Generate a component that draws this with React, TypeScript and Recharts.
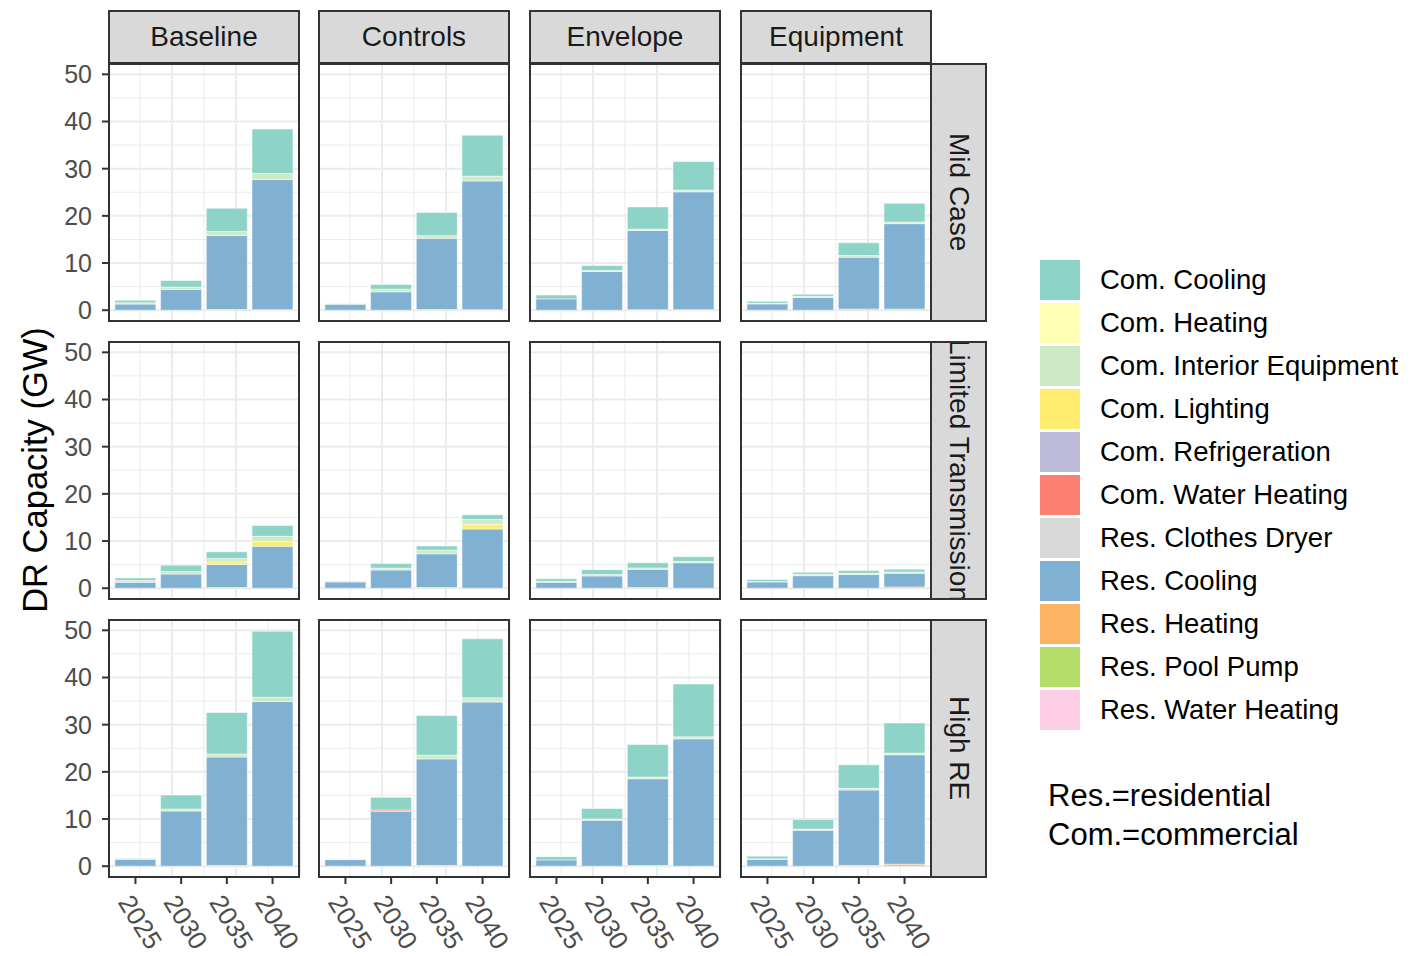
import { BarChart, Bar, XAxis, YAxis, CartesianGrid } from "recharts"

// panel order: Mid Case (Baseline, Controls, Envelope, Equipment),
// Limited Transmission (...), High RE (...); each row = 2025, 2030, 2035, 2040
const years = ["2025", "2030", "2035", "2040"]
const columnLabels = ["Baseline", "Controls", "Envelope", "Equipment"]
const rowLabels = ["Mid Case", "Limited Transmission", "High RE"]
const yTicks = [0, 10, 20, 30, 40, 50]
const yMinor = [5, 15, 25, 35, 45]
// positions on a continuous copy of the discrete x scale (1..4 = categories)
const xMajor = [1, 2, 3, 4]
const xMinor = [0.5, 1.5, 2.5, 3.5, 4.5]

const comCooling = [
  [0.5, 1.4, 4.9, 9.4], [0, 1.0, 4.9, 8.7], [0.8, 1.05, 4.7, 6.05], [0.4, 0.45, 2.7, 3.95],
  [0.56, 1.33, 1.4, 2.3], [0, 1.0, 0.9, 1.0], [0.56, 1.05, 1.1, 1.0], [0.42, 0.42, 0.56, 0.56],
  [0.1, 2.95, 8.8, 14.0], [0.05, 2.7, 8.4, 12.5], [0.7, 2.2, 6.9, 11.2], [0.56, 2.0, 5.0, 6.4],
]
const comHeating = [
  [0, 0, 0, 0], [0, 0, 0, 0], [0, 0, 0, 0], [0, 0, 0, 0],
  [0, 0, 0, 0], [0, 0, 0, 0], [0, 0, 0, 0], [0, 0, 0, 0],
  [0, 0, 0, 0], [0, 0, 0, 0], [0, 0, 0, 0], [0, 0, 0, 0],
]
const comInteriorEquipment = [
  [0.3, 0.5, 0.85, 1.3], [0.14, 0.55, 0.55, 1.0], [0, 0.2, 0.3, 0.35], [0.15, 0.25, 0.35, 0.35],
  [0.35, 0.56, 0.7, 1.1], [0.2, 0.4, 0.77, 1.0], [0.2, 0.28, 0.28, 0.28], [0.1, 0.28, 0.28, 0.28],
  [0.15, 0.42, 0.63, 0.9], [0.1, 0, 0.77, 0.7], [0, 0.28, 0.35, 0.42], [0.1, 0.28, 0.35, 0.35],
]
const comLighting = [
  [0, 0, 0, 0], [0, 0, 0, 0], [0, 0, 0, 0], [0, 0, 0, 0],
  [0, 0, 0.56, 1.0], [0, 0, 0, 1.0], [0, 0, 0, 0], [0, 0, 0, 0],
  [0, 0, 0, 0], [0, 0, 0, 0], [0, 0, 0, 0], [0, 0, 0, 0],
]
const comRefrigeration = [
  [0, 0, 0, 0], [0, 0, 0, 0], [0, 0, 0, 0], [0, 0, 0, 0],
  [0, 0, 0, 0], [0, 0, 0, 0], [0, 0, 0, 0], [0, 0, 0, 0],
  [0, 0, 0, 0], [0, 0, 0, 0.2], [0, 0, 0, 0], [0, 0, 0, 0],
]
const comWaterHeating = [
  [0, 0, 0, 0], [0, 0, 0, 0], [0, 0, 0, 0], [0, 0, 0, 0],
  [0, 0, 0, 0], [0, 0, 0, 0], [0, 0, 0, 0], [0, 0, 0, 0],
  [0, 0, 0, 0], [0, 0.25, 0, 0], [0, 0, 0, 0], [0, 0, 0, 0],
]
const resClothesDryer = [
  [0, 0, 0, 0], [0, 0, 0, 0], [0, 0, 0, 0], [0, 0, 0, 0],
  [0, 0, 0, 0], [0, 0, 0, 0], [0, 0, 0, 0], [0, 0, 0, 0],
  [0, 0, 0, 0], [0, 0, 0, 0], [0, 0, 0, 0], [0, 0, 0, 0],
]
const resCooling = [
  [1.3, 4.4, 15.7, 27.6], [1.27, 3.9, 15.1, 27.3], [2.4, 8.2, 16.8, 25.0], [1.34, 2.7, 11.0, 18.1],
  [1.26, 3.0, 4.9, 8.9], [1.33, 3.86, 7.15, 12.55], [1.26, 2.6, 3.86, 5.4], [1.33, 2.66, 2.9, 2.9],
  [1.47, 11.7, 23.0, 34.9], [1.4, 11.65, 22.6, 34.8], [1.33, 9.75, 18.4, 27.0], [1.47, 7.6, 16.0, 23.2],
]
const resHeating = [
  [0, 0, 0, 0], [0, 0, 0, 0], [0, 0, 0, 0], [0, 0, 0.25, 0],
  [0, 0, 0, 0], [0, 0, 0, 0], [0, 0, 0, 0], [0, 0, 0, 0.28],
  [0, 0, 0.15, 0], [0, 0, 0.15, 0], [0, 0, 0, 0], [0, 0, 0.15, 0.42],
]
const resPoolPump = [
  [0, 0, 0.15, 0], [0, 0, 0.15, 0], [0, 0, 0, 0], [0, 0, 0, 0.25],
  [0, 0, 0.15, 0], [0, 0, 0.15, 0], [0, 0, 0.15, 0], [0, 0, 0, 0],
  [0, 0, 0, 0], [0, 0, 0, 0], [0, 0, 0.15, 0], [0, 0, 0, 0],
]
const resWaterHeating = [
  [0, 0, 0, 0.1], [0, 0, 0, 0.1], [0, 0, 0.1, 0.1], [0, 0, 0, 0],
  [0, 0, 0, 0], [0, 0, 0, 0], [0, 0, 0, 0], [0, 0, 0, 0],
  [0, 0, 0, 0], [0, 0, 0, 0], [0, 0, 0, 0], [0, 0, 0, 0],
]

// legend order (top of stack first)
const series = [
  { key: "comCooling", name: "Com. Cooling", color: "#8DD3C7", values: comCooling },
  { key: "comHeating", name: "Com. Heating", color: "#FFFFB3", values: comHeating },
  { key: "comInteriorEquipment", name: "Com. Interior Equipment", color: "#CCEBC5", values: comInteriorEquipment },
  { key: "comLighting", name: "Com. Lighting", color: "#FFED6F", values: comLighting },
  { key: "comRefrigeration", name: "Com. Refrigeration", color: "#BEBADA", values: comRefrigeration },
  { key: "comWaterHeating", name: "Com. Water Heating", color: "#FB8072", values: comWaterHeating },
  { key: "resClothesDryer", name: "Res. Clothes Dryer", color: "#D9D9D9", values: resClothesDryer },
  { key: "resCooling", name: "Res. Cooling", color: "#80B1D3", values: resCooling },
  { key: "resHeating", name: "Res. Heating", color: "#FDB462", values: resHeating },
  { key: "resPoolPump", name: "Res. Pool Pump", color: "#B3DE69", values: resPoolPump },
  { key: "resWaterHeating", name: "Res. Water Heating", color: "#FCCDE5", values: resWaterHeating },
]

const FONT = "'Liberation Sans', Arial, sans-serif"
const colLeft = [108, 318, 529, 740]
const rowTop = [63, 341, 619]
const PW = 192
const PH = 259
const PAD = 16
const PADR = 20
const YAXIS_W = 70
const XAXIS_H = 78

const YearTick = ({ x, y, payload }: any) => (
  <g transform={`translate(${x - 2},${y})`}>
    <text transform="rotate(58)" textAnchor="start" dominantBaseline="hanging" fill="#4D4D4D" fontSize={26}>
      {payload.value}
    </text>
  </g>
)

function Panel({ row, col }: { row: number; col: number }) {
  const p = row * 4 + col
  const data = years.map((year, i) => {
    const d: Record<string, number | string> = { year }
    series.forEach((s) => {
      d[s.key] = s.values[p][i]
    })
    return d
  })
  const showY = col === 0
  const showX = row === 2
  const left = colLeft[col] - (showY ? YAXIS_W : 0)
  const rightPad = showX ? PADR : 0
  const width = PW + (showY ? YAXIS_W : 0) + rightPad
  const bottomPad = showX ? 0 : PAD
  const height = PAD + PH + (showX ? XAXIS_H : 0) + bottomPad
  const stackOrder = [...series].reverse()
  return (
    <div style={{ position: "absolute", left, top: rowTop[row] - PAD }}>
      <BarChart
        width={width}
        height={height}
        data={data}
        margin={{ top: PAD, right: rightPad, bottom: bottomPad, left: 0 }}
        barCategoryGap="5%"
        barGap={0}
      >
        <CartesianGrid
          xAxisId="grid"
          stroke="#EBEBEB"
          strokeWidth={1}
          horizontalValues={yMinor}
          verticalValues={xMinor}
        />
        <CartesianGrid
          xAxisId="grid"
          stroke="#EBEBEB"
          strokeWidth={2}
          horizontalValues={yTicks}
          verticalValues={xMajor}
        />
        <XAxis xAxisId="grid" type="number" domain={[0.4, 4.6]} allowDataOverflow hide height={0} />
        <XAxis
          dataKey="year"
          type="category"
          padding={{ left: 4.6, right: 4.6 }}
          hide={!showX}
          height={showX ? XAXIS_H : 0}
          axisLine={false}
          tickSize={6}
          tickMargin={8}
          tickLine={{ stroke: "#333333", strokeWidth: 2 }}
          tick={<YearTick />}
          interval={0}
        />
        <YAxis
          type="number"
          domain={[-2.5, 52.4]}
          ticks={yTicks}
          interval={0}
          allowDataOverflow
          hide={!showY}
          width={showY ? YAXIS_W : 0}
          axisLine={false}
          tickSize={6}
          tickMargin={10}
          tickLine={{ stroke: "#333333", strokeWidth: 2 }}
          tick={{ fill: "#4D4D4D", fontSize: 25 }}
        />
        {stackOrder.map((s) => (
          <Bar
            key={s.key}
            dataKey={s.key}
            stackId="a"
            fill={s.color}
            stroke="#FFFFFF"
            strokeWidth={0.5}
            isAnimationActive={false}
          />
        ))}
      </BarChart>
      <div
        style={{
          position: "absolute",
          left: showY ? YAXIS_W : 0,
          top: PAD,
          width: PW,
          height: PH,
          border: "2px solid #333333",
          boxSizing: "border-box",
          pointerEvents: "none",
        }}
      />
    </div>
  )
}

export default function App() {
  return (
    <div style={{ position: "absolute", left: 0, top: 0, width: 1411, height: 956, background: "#FFFFFF", fontFamily: FONT }}>
      {rowLabels.map((_, r) => columnLabels.map((_, c) => <Panel key={`${r}-${c}`} row={r} col={c} />))}

      {columnLabels.map((label, c) => (
        <div
          key={label}
          style={{
            position: "absolute",
            left: colLeft[c],
            top: 10,
            width: PW,
            height: 54,
            background: "#D9D9D9",
            border: "2px solid #333333",
            boxSizing: "border-box",
            display: "flex",
            alignItems: "center",
            justifyContent: "center",
            fontSize: 28,
            color: "#1A1A1A",
          }}
        >
          {label}
        </div>
      ))}

      {rowLabels.map((label, r) => (
        <div
          key={label}
          style={{
            position: "absolute",
            left: 930,
            top: rowTop[r],
            width: 57,
            height: PH,
            background: "#D9D9D9",
            border: "2px solid #333333",
            boxSizing: "border-box",
            overflow: "hidden",
            display: "flex",
            alignItems: "center",
            justifyContent: "center",
          }}
        >
          <span style={{ writingMode: "vertical-rl", fontSize: 28, color: "#1A1A1A", whiteSpace: "nowrap", lineHeight: 1 }}>
            {label}
          </span>
        </div>
      ))}

      <div
        style={{
          position: "absolute",
          left: 35,
          top: 470,
          transform: "translate(-50%, -50%) rotate(-90deg)",
          fontSize: 34.5,
          color: "#000000",
          whiteSpace: "nowrap",
        }}
      >
        DR Capacity (GW)
      </div>

      {series.map((s, i) => (
        <div key={s.key} style={{ position: "absolute", left: 1040, top: 260 + i * 43, height: 40, display: "flex", alignItems: "center" }}>
          <div style={{ width: 40, height: 40, background: s.color }} />
          <div style={{ marginLeft: 20, fontSize: 27.5, color: "#000000", whiteSpace: "nowrap" }}>{s.name}</div>
        </div>
      ))}

      <div style={{ position: "absolute", left: 1048, top: 776, fontSize: 31, lineHeight: "39px", color: "#000000", whiteSpace: "nowrap" }}>
        <div>Res.=residential</div>
        <div>Com.=commercial</div>
      </div>
    </div>
  )
}
